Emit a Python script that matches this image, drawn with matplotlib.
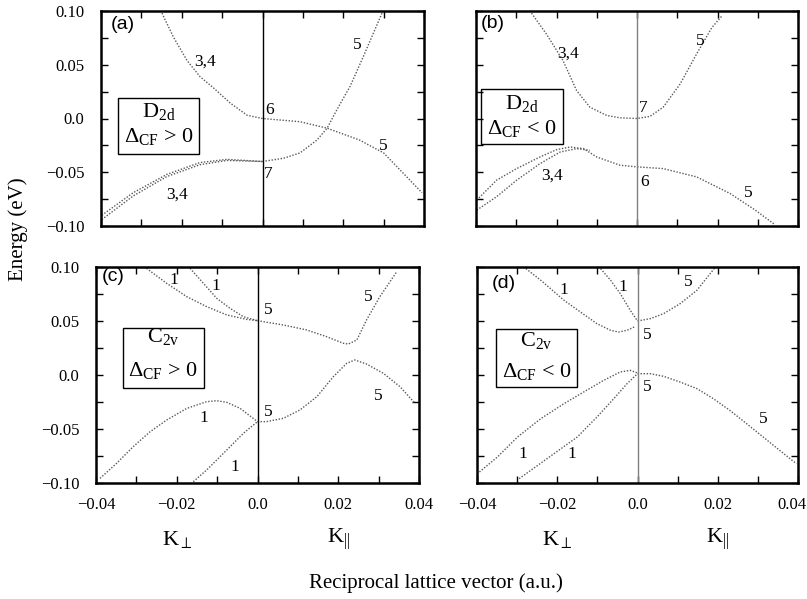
import matplotlib
matplotlib.use("Agg")
import matplotlib.pyplot as plt
import matplotlib.transforms as mtransforms

plt.rcParams['font.family'] = ['Liberation Serif', 'DejaVu Serif']
plt.rcParams['mathtext.fontset'] = 'custom'
plt.rcParams['mathtext.rm'] = 'Liberation Serif'
plt.rcParams['mathtext.it'] = 'Liberation Serif:italic'
plt.rcParams['mathtext.sf'] = 'Liberation Serif'

# ---- panel (a): D2d, Delta_CF > 0 ----
a_cb_k = [-0.0249, -0.0221, -0.0187, -0.0155, -0.0123, -0.008, -0.0038, 0.0,
          0.0093, 0.016, 0.024, 0.030, 0.0395]
a_cb_e = [0.098, 0.076, 0.054, 0.039, 0.029, 0.0144, 0.003, 0.0,
          -0.003, -0.009, -0.020, -0.032, -0.069]
a_vb1_k = [-0.0398, -0.032, -0.0237, -0.0155, -0.0088, 0.0]
a_vb1_e = [-0.094, -0.072, -0.054, -0.043, -0.039, -0.040]
a_vb2_k = [-0.0398, -0.032, -0.0237, -0.0155, -0.0088, 0.0]
a_vb2_e = [-0.090, -0.069, -0.052, -0.041, -0.038, -0.040]
a_up_k = [0.0, 0.0052, 0.0093, 0.0135, 0.016, 0.0184, 0.0217, 0.0249, 0.0296]
a_up_e = [-0.040, -0.037, -0.032, -0.020, -0.009, 0.008, 0.030, 0.057, 0.098]

# ---- panel (b): D2d, Delta_CF < 0 ----
b_cb_k = [-0.0262, -0.0224, -0.0184, -0.015, -0.0117, -0.0075, -0.0042, 0.0,
          0.0032, 0.0065, 0.0107, 0.0148, 0.0186, 0.021]
b_cb_e = [0.098, 0.078, 0.054, 0.026, 0.0105, 0.0028, 0.0006, 0.0,
          0.0019, 0.0105, 0.032, 0.060, 0.0846, 0.095]
b_vb1_k = [-0.0398, -0.0349, -0.0299, -0.0241, -0.020, -0.0166, -0.0133, -0.010,
           -0.0042, 0.0, 0.0065, 0.0148, 0.0231, 0.0293, 0.034]
b_vb1_e = [-0.0759, -0.0574, -0.0466, -0.0358, -0.029, -0.0265, -0.028, -0.0358,
           -0.0435, -0.045, -0.0466, -0.0543, -0.0697, -0.085, -0.098]
b_vb2_k = [-0.0398, -0.0349, -0.0299, -0.0241, -0.0191, -0.015, -0.0117]
b_vb2_e = [-0.0852, -0.0728, -0.0574, -0.042, -0.0312, -0.028, -0.0296]

# ---- panel (c): C2v, Delta_CF > 0 ----
c_u1_k = [-0.0275, -0.0225, -0.0175, -0.0126, -0.0076, -0.0027, 0.0]
c_u1_e = [0.0988, 0.0849, 0.0725, 0.0633, 0.0556, 0.0515, 0.0503]
c_u2_k = [-0.0167, -0.0134, -0.0101, -0.0068, -0.0035, 0.0]
c_u2_e = [0.0988, 0.0849, 0.071, 0.0617, 0.054, 0.0503]
c_u5_k = [0.0, 0.0064, 0.0122, 0.0171, 0.0213, 0.0225, 0.0246, 0.027, 0.0303, 0.0345]
c_u5_e = [0.0503, 0.0463, 0.0417, 0.0355, 0.0293, 0.0287, 0.0324, 0.0509, 0.0725, 0.0957]
c_l5_k = [0.0, 0.0022, 0.0064, 0.0105, 0.0147, 0.0188, 0.0221, 0.0241, 0.027, 0.0312, 0.0353, 0.039]
c_l5_e = [-0.0432, -0.0432, -0.0401, -0.0324, -0.0201, -0.0015, 0.0108, 0.0139, 0.0102, 0.0015, -0.0108, -0.0262]
c_l1_k = [-0.039, -0.0349, -0.0308, -0.0266, -0.0225, -0.0175, -0.0126, -0.0101, -0.0076, -0.0043, 0.0]
c_l1_e = [-0.0957, -0.0818, -0.0664, -0.0525, -0.0417, -0.0309, -0.0247, -0.0238, -0.0253, -0.0309, -0.0432]
c_l2_k = [-0.0159, -0.0126, -0.0076, -0.0035, 0.0]
c_l2_e = [-0.0988, -0.088, -0.0694, -0.054, -0.0432]

# ---- panel (d): C2v, Delta_CF < 0 ----
d_u1_k = [-0.0278, -0.0241, -0.0183, -0.0142, -0.0101, -0.0067, -0.0047, -0.0026, -0.0005]
d_u1_e = [0.0985, 0.0877, 0.0691, 0.0583, 0.0475, 0.0414, 0.0398, 0.0414, 0.045]
d_u2_k = [-0.0092, -0.0067, -0.0043, -0.0018, 0.0]
d_u2_e = [0.0985, 0.0877, 0.0753, 0.0599, 0.050]
d_u5_k = [0.0, 0.0032, 0.0065, 0.0106, 0.0148, 0.0181, 0.0193]
d_u5_e = [0.050, 0.0522, 0.0568, 0.066, 0.0784, 0.0938, 0.0994]
d_l5_k = [0.0, 0.0032, 0.0065, 0.0106, 0.0148, 0.0189, 0.023, 0.0272, 0.0313, 0.0354, 0.0396]
d_l5_e = [0.0012, 0.0012, -0.0012, -0.0065, -0.0126, -0.0219, -0.0327, -0.0451, -0.0574, -0.0697, -0.0821]
d_l1_k = [-0.0394, -0.0349, -0.0299, -0.0241, -0.0183, -0.0134, -0.0084, -0.0043, -0.0018, 0.0]
d_l1_e = [-0.0898, -0.0759, -0.0574, -0.0404, -0.0265, -0.0157, -0.0049, 0.0028, 0.0043, 0.0019]
d_l2_k = [-0.0295, -0.0266, -0.0208, -0.015, -0.0101, -0.0059, -0.0026, 0.0]
d_l2_e = [-0.096, -0.0883, -0.0728, -0.0574, -0.0389, -0.0219, -0.008, 0.0012]

xticks = [-0.04, -0.02, 0.0, 0.02, 0.04]
xtick_labels = ['\u22120.04', '\u22120.02', '0.0', '0.02', '0.04']
yticks = [-0.10, -0.05, 0.0, 0.05, 0.10]
ytick_labels = ['\u22120.10', '\u22120.05', '0.0', '0.05', '0.10']

W, H = 807, 599
fig = plt.figure(figsize=(W / 100, H / 100), dpi=100)


def box(l, r, t, b):
    return [l / W, 1 - b / H, (r - l) / W, (b - t) / H]


ax_a = fig.add_axes(box(101, 424, 11, 226))
ax_b = fig.add_axes(box(476, 798, 11, 226))
ax_c = fig.add_axes(box(96, 419, 267, 483))
ax_d = fig.add_axes(box(477, 798, 267, 483))

curve_style = dict(color='0.35', lw=1.0, ls=(0, (1, 1.2)))

curves = {
    ax_a: [(a_cb_k, a_cb_e), (a_vb1_k, a_vb1_e), (a_vb2_k, a_vb2_e), (a_up_k, a_up_e)],
    ax_b: [(b_cb_k, b_cb_e), (b_vb1_k, b_vb1_e), (b_vb2_k, b_vb2_e)],
    ax_c: [(c_u1_k, c_u1_e), (c_u2_k, c_u2_e), (c_u5_k, c_u5_e), (c_l5_k, c_l5_e),
           (c_l1_k, c_l1_e), (c_l2_k, c_l2_e)],
    ax_d: [(d_u1_k, d_u1_e), (d_u2_k, d_u2_e), (d_u5_k, d_u5_e), (d_l5_k, d_l5_e),
           (d_l1_k, d_l1_e), (d_l2_k, d_l2_e)],
}

for ax, lines in curves.items():
    for k, e in lines:
        ax.plot(k, e, **curve_style)
    ax.set_xlim(-0.04, 0.04)
    ax.set_ylim(-0.10, 0.10)
    ax.set_xticks(xticks)
    ax.set_xticks([-0.03, -0.01, 0.01, 0.03], minor=True)
    ax.set_yticks(yticks)
    ax.set_yticks([-0.075, -0.025, 0.025, 0.075], minor=True)
    ax.tick_params(which='both', direction='in', top=True, right=True,
                   length=5, width=1.0, labelsize=12)
    ax.tick_params(axis='x', pad=10)
    ax.tick_params(axis='y', pad=12)
    for s in ax.spines.values():
        s.set_linewidth(1.8)
    if ax in (ax_a, ax_c):
        ax.set_yticklabels(ytick_labels)
    else:
        ax.set_yticklabels([])
    if ax in (ax_c, ax_d):
        ax.set_xticklabels(xtick_labels)
        ax.text(-0.02, -0.152, r'K$_\perp$', ha='center', va='center', fontsize=16)
        ax.text(0.02, -0.152, r'K$_{||}$', ha='center', va='center', fontsize=16)
    else:
        ax.set_xticklabels([])

# keep the last tick label of (d) inside the canvas
last = ax_d.get_xticklabels()[-1]
last.set_transform(last.get_transform() +
                   mtransforms.ScaledTranslation(-6 / 100, 0, fig.dpi_scale_trans))

ax_a.axvline(0, color='black', lw=1.0)
ax_c.axvline(0, color='black', lw=1.0)
ax_b.axvline(0, color='0.5', lw=1.0)
ax_d.axvline(0, color='0.5', lw=1.0)

sans = ['Liberation Sans', 'DejaVu Sans']
ax_a.text(-0.0345, 0.087, '(a)', family=sans, fontsize=14, ha='center', va='center')
ax_b.text(-0.0358, 0.088, '(b)', family=sans, fontsize=14, ha='center', va='center')
ax_c.text(-0.0358, 0.091, '(c)', family=sans, fontsize=14, ha='center', va='center')
ax_d.text(-0.0332, 0.0846, '(d)', family=sans, fontsize=14, ha='center', va='center')

# band labels
lab = dict(fontsize=12.5, ha='center', va='center')
for x, y, s in [(-0.0142, 0.053, '3,4'), (0.0017, 0.008, '6'), (0.0014, -0.052, '7'),
                (0.0234, 0.068, '5'), (0.030, -0.026, '5'), (-0.0212, -0.071, '3,4')]:
    ax_a.text(x, y, s, **lab)
for x, y, s in [(-0.0171, 0.060, '3,4'), (0.0015, 0.010, '7'), (0.0157, 0.072, '5'),
                (-0.0212, -0.0528, '3,4'), (0.0019, -0.059, '6'), (0.0276, -0.0697, '5')]:
    ax_b.text(x, y, s, **lab)
for x, y, s in [(-0.0208, 0.088, '1'), (-0.0103, 0.0824, '1'), (0.0027, 0.0602, '5'),
                (0.0275, 0.0725, '5'), (0.030, -0.0191, '5'), (0.0027, -0.034, '5'),
                (-0.0134, -0.040, '1'), (-0.0056, -0.0849, '1')]:
    ax_c.text(x, y, s, **lab)
for x, y, s in [(-0.0183, 0.0784, '1'), (-0.0036, 0.0815, '1'), (0.0127, 0.0861, '5'),
                (0.0024, 0.0367, '5'), (0.0024, -0.0111, '5'), (0.0313, -0.0404, '5'),
                (-0.0287, -0.0728, '1'), (-0.0163, -0.0728, '1')]:
    ax_d.text(x, y, s, **lab)

# symmetry boxes
def sym_box(ax, x0, x1, y0, y1, top, bottom, ytop, ybot):
    ax.add_patch(plt.Rectangle((x0, y1), x1 - x0, y0 - y1, fill=False,
                               edgecolor='black', lw=1.0, zorder=3))
    xc = (x0 + x1) / 2
    ax.text(xc, ytop, top, fontsize=16, ha='center', va='center')
    ax.text(xc, ybot, bottom, fontsize=16, ha='center', va='center')


sym_box(ax_a, -0.0357, -0.0158, 0.0193, -0.0326, r'D$_{\rm 2d}$', r'$\Delta_{\rm CF}$ > 0', 0.0063, -0.017)
sym_box(ax_b, -0.0388, -0.0183, 0.0275, -0.024, r'D$_{\rm 2d}$', r'$\Delta_{\rm CF}$ < 0', 0.0139, -0.009)
sym_box(ax_c, -0.0334, -0.0132, 0.0432, -0.0123, r'C$_{\rm 2v}$', r'$\Delta_{\rm CF}$ > 0', 0.0355, 0.0046)
sym_box(ax_d, -0.0353, -0.015, 0.0429, -0.0111, r'C$_{\rm 2v}$', r'$\Delta_{\rm CF}$ < 0', 0.0321, 0.0028)

fig.text(18 / W, 1 - 229 / H, 'Energy (eV)', rotation=90, fontsize=15, ha='center', va='center')
fig.text(436 / W, 1 - 583 / H, 'Reciprocal lattice vector (a.u.)', fontsize=15, ha='center', va='center')

fig.savefig('out.png', dpi=100)
